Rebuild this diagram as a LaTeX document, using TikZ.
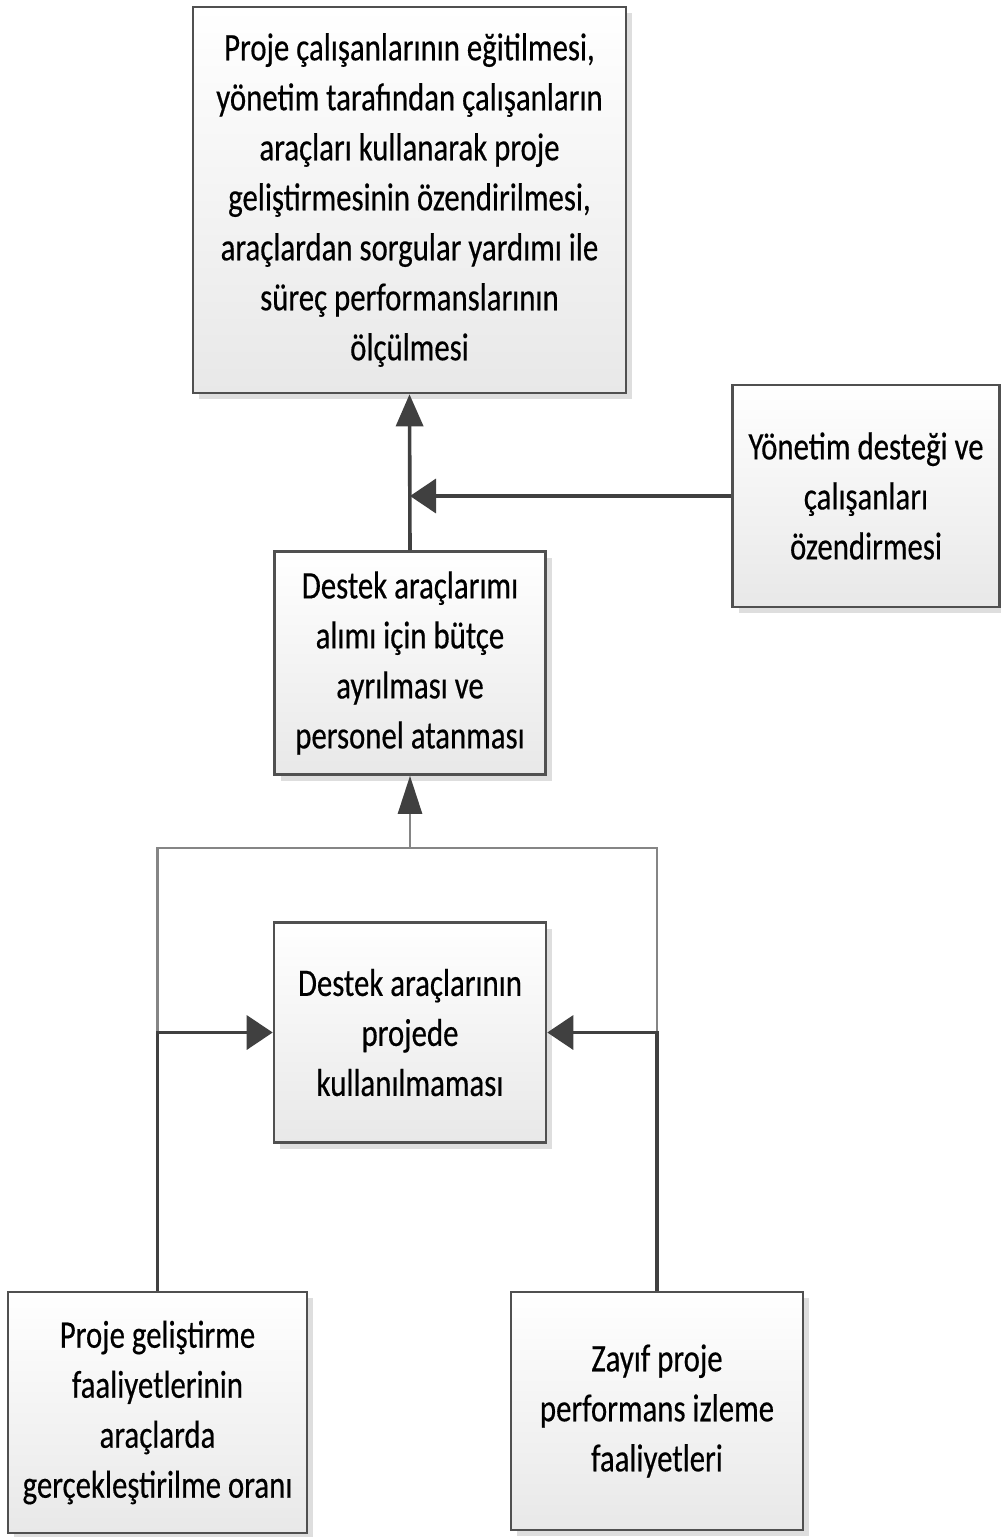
\documentclass[tikz,border=0pt]{standalone}
\usepackage{fontspec}
\setmainfont{Carlito}[FakeStretch=0.79,FakeBold=0.4]
\usetikzlibrary{arrows.meta,shadows}
\definecolor{edge}{HTML}{505050}
\definecolor{wire}{HTML}{404040}
\definecolor{thinwire}{HTML}{858585}
\tikzset{
  box/.style={draw=edge, line width=2.6pt, rectangle, align=center,
    top color=white, bottom color=black!9,
    general shadow={shadow xshift=6pt, shadow yshift=-6pt, fill=black!13},
    font=\fontsize{39}{50}\selectfont, inner sep=0pt},
  conn/.style={draw=wire, line width=3.6pt},
  framewire/.style={draw=thinwire, line width=2.6pt},
  uptip/.style={-{Triangle[length=32pt,width=27pt,color=wire]}},
  sidetip/.style={-{Triangle[length=26pt,width=34pt,color=wire]}},
  thintip/.style={-{Triangle[length=38pt,width=24pt,color=wire]}}
}
\begin{document}
\begin{tikzpicture}[x=1pt,y=-1pt]
\useasboundingbox (0,0) rectangle (1001,1537);

% boxes
\node[box, minimum width=433pt, minimum height=386pt] (goal) at (409.5,200)
  {Proje çalışanlarının eğitilmesi,\\ yönetim tarafından çalışanların\\ araçları kullanarak proje\\ geliştirmesinin özendirilmesi,\\ araçlardan sorgular yardımı ile\\ süreç performanslarının\\ ölçülmesi};
\node[box, minimum width=267pt, minimum height=222pt] (support) at (866,496)
  {Yönetim desteği ve\\ çalışanları\\ özendirmesi};
\node[box, minimum width=271pt, minimum height=223pt] (budget) at (410,663)
  {Destek araçlarımı\\ alımı için bütçe\\ ayrılması ve\\ personel atanması};
\node[box, minimum width=272pt, minimum height=220pt] (unused) at (410,1032.5)
  {Destek araçlarının\\ projede\\ kullanılmaması};
\node[box, minimum width=299pt, minimum height=241pt] (ratio) at (157.5,1412.5)
  {Proje geliştirme\\ faaliyetlerinin\\ araçlarda\\ gerçekleştirilme oranı};
\node[box, minimum width=292pt, minimum height=238pt] (weak) at (657,1411)
  {Zayıf proje\\ performans izleme\\ faaliyetleri};

% thin frame collecting both lower causes into the budget box
\coordinate (frametop) at (410,848);
\draw[framewire] (ratio.north) |- (frametop) -| (weak.north);
\draw[framewire, thintip] (frametop) -- (budget.south);

% main connectors
\draw[conn, sidetip] (ratio.north) |- (unused.west);
\draw[conn, sidetip] (weak.north) |- (unused.east);
\draw[conn, uptip] (budget.north) -- (goal.south);
\draw[conn, sidetip] (support.west) -- (budget.north |- support.west);
\end{tikzpicture}
\end{document}
